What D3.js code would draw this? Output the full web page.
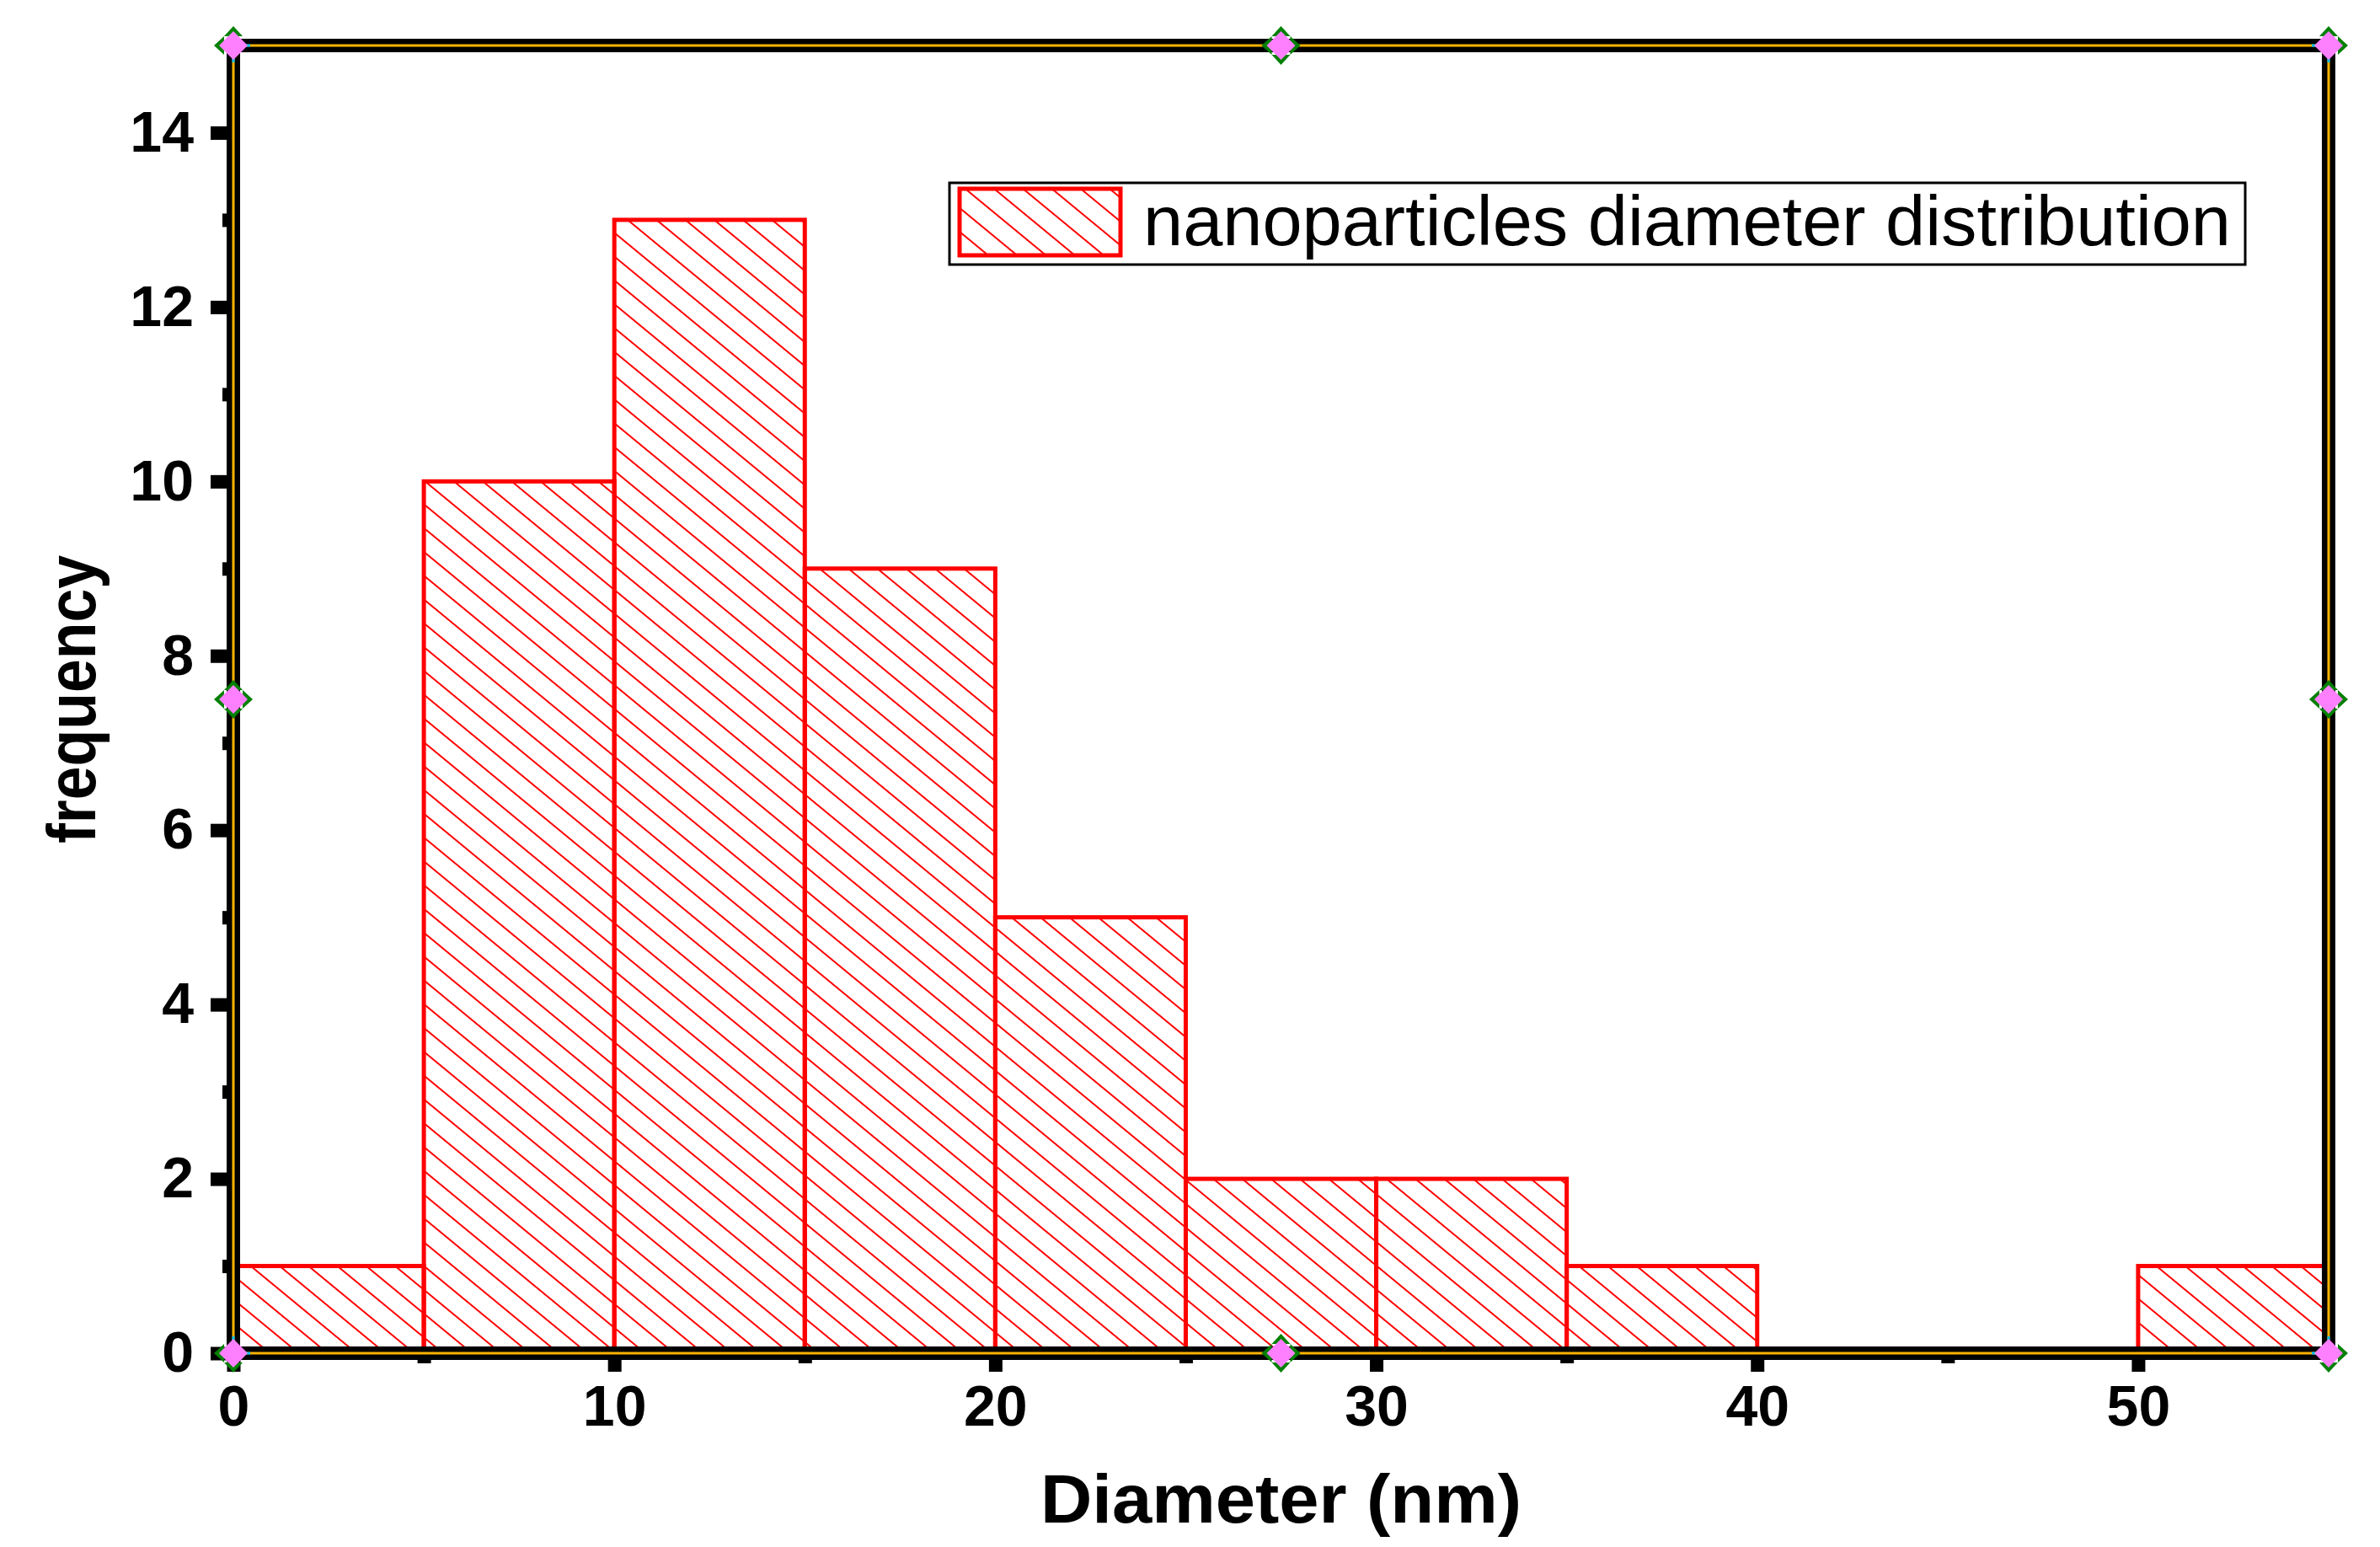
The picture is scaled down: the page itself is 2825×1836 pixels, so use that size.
<!DOCTYPE html>
<html>
<head>
<meta charset="utf-8">
<script src="https://cdn.jsdelivr.net/npm/d3@7"></script>
<style>
  html, body { margin: 0; padding: 0; background: #fff; }
  svg { display: block; }
</style>
</head>
<body>
<svg id="chart" width="2825" height="1836"></svg>
<script>
// ---- data ----
const binStarts = [0, 5, 10, 15, 20, 25, 30, 35, 40, 45, 50];
const binWidth = 5;
const counts = [1, 10, 13, 9, 5, 2, 2, 1, 0, 0, 1];
const xMajorTicks = [0, 10, 20, 30, 40, 50];
const xMinorTicks = [5, 15, 25, 35, 45];
const yMajorTicks = [0, 2, 4, 6, 8, 10, 12, 14];
const yMinorTicks = [1, 3, 5, 7, 9, 11, 13];
const seriesName = "nanoparticles diameter distribution";
const xTitle = "Diameter (nm)";
const yTitle = "frequency";

// ---- layout ----
const L = 277, R = 2764, T = 54, B = 1606;
const svg = d3.select("#chart");
const x = d3.scaleLinear().domain([0, 55]).range([L, R]);
const y = d3.scaleLinear().domain([0, 15]).range([B, T]);
const FONT = "'Liberation Sans', Arial, Helvetica, sans-serif";

const defs = svg.append("defs");
const pat = defs.append("pattern")
  .attr("id", "hatch")
  .attr("patternUnits", "userSpaceOnUse")
  .attr("width", 40).attr("height", 21.8)
  .attr("patternTransform", "rotate(39.5)");
pat.append("line")
  .attr("x1", 0).attr("x2", 40).attr("y1", 10.9).attr("y2", 10.9)
  .attr("stroke", "#ff0000").attr("stroke-width", 2.2);

// ---- bars ----
const data = binStarts.map((s, i) => ({ s, e: s + binWidth, c: counts[i] }));
svg.append("g").selectAll("rect").data(data).join("rect")
  .attr("x", d => x(d.s))
  .attr("y", d => y(d.c))
  .attr("width", d => x(d.e) - x(d.s))
  .attr("height", d => y(0) - y(d.c))
  .attr("fill", "url(#hatch)")
  .attr("stroke", "#ff0000")
  .attr("stroke-width", 5);

// ---- axes ticks ----
function styleAxis(g) {
  g.select(".domain").remove();
  g.selectAll(".tick line").attr("stroke", "#000").attr("stroke-width", 16);
  g.selectAll(".tick text")
    .attr("fill", "#000")
    .style("font-family", FONT)
    .style("font-weight", "bold")
    .style("font-size", "68px");
}
svg.append("g").attr("transform", `translate(0,${B})`)
  .call(d3.axisBottom(x).tickValues(xMajorTicks).tickSize(22).tickPadding(16).tickFormat(d3.format("d")))
  .call(styleAxis);
svg.append("g").attr("transform", `translate(0,${B})`)
  .call(d3.axisBottom(x).tickValues(xMinorTicks).tickSize(12).tickFormat(""))
  .call(styleAxis);
svg.append("g").attr("transform", `translate(${L},0)`)
  .call(d3.axisLeft(y).tickValues(yMajorTicks).tickSize(27).tickPadding(20).tickFormat(d3.format("d")))
  .call(styleAxis);
svg.append("g").attr("transform", `translate(${L},0)`)
  .call(d3.axisLeft(y).tickValues(yMinorTicks).tickSize(13).tickFormat(""))
  .call(styleAxis);

// ---- frame ----
svg.append("rect")
  .attr("x", L).attr("y", T).attr("width", R - L).attr("height", B - T)
  .attr("fill", "none").attr("stroke", "#000").attr("stroke-width", 16);
svg.append("rect")
  .attr("x", L).attr("y", T).attr("width", R - L).attr("height", B - T)
  .attr("fill", "none").attr("stroke", "#ffb400").attr("stroke-width", 3);

// cyan corner marks
const cyan = "#00c0ff";
const cm = 20;
const corners = [
  [L, T, 1, 1], [R, T, -1, 1], [L, B, 1, -1], [R, B, -1, -1]
];
corners.forEach(([cx, cy, sx, sy]) => {
  svg.append("path")
    .attr("d", `M${cx + sx * cm},${cy} L${cx},${cy} L${cx},${cy + sy * cm}`)
    .attr("fill", "none").attr("stroke", cyan).attr("stroke-width", 3);
});

// selection handles
const handles = [
  { p: [L, T], dirs: [[0, -1], [-1, 0]] },
  { p: [R, T], dirs: [[0, -1], [1, 0]] },
  { p: [L, B], dirs: [[0, 1], [-1, 0]] },
  { p: [R, B], dirs: [[0, 1], [1, 0]] },
  { p: [(L + R) / 2, T], dirs: [[0, -1], [0, 1], [-1, 0], [1, 0]] },
  { p: [(L + R) / 2, B], dirs: [[0, -1], [0, 1], [-1, 0], [1, 0]] },
  { p: [L, (T + B) / 2], dirs: [[0, -1], [0, 1], [-1, 0], [1, 0]] },
  { p: [R, (T + B) / 2], dirs: [[0, -1], [0, 1], [-1, 0], [1, 0]] }
];
handles.forEach(h => {
  const [hx, hy] = h.p;
  h.dirs.forEach(([dx, dy]) => {
    const tipX = hx + dx * 23, tipY = hy + dy * 23;
    const bx = hx + dx * 11, by = hy + dy * 11;
    const px = -dy * 11, py = dx * 11;
    svg.append("path")
      .attr("d", `M${tipX},${tipY} L${bx + px},${by + py} L${bx - px},${by - py} Z`)
      .attr("fill", "#008000");
  });
  const s = 17;
  svg.append("path")
    .attr("d", `M${hx},${hy - s} L${hx + s},${hy} L${hx},${hy + s} L${hx - s},${hy} Z`)
    .attr("fill", "#ff80ff");
});

// ---- legend ----
const lg = svg.append("g");
lg.append("rect")
  .attr("x", 1127).attr("y", 217).attr("width", 1538).attr("height", 97)
  .attr("fill", "#fff").attr("stroke", "#000").attr("stroke-width", 3);
lg.append("rect")
  .attr("x", 1139).attr("y", 224).attr("width", 191).attr("height", 79)
  .attr("fill", "url(#hatch)").attr("stroke", "#ff0000").attr("stroke-width", 5);
lg.append("text")
  .attr("x", 1357).attr("y", 291)
  .attr("textLength", 1291).attr("lengthAdjust", "spacingAndGlyphs")
  .style("font-family", FONT).style("font-size", "84px")
  .attr("fill", "#000")
  .text(seriesName);

// ---- titles ----
svg.append("text")
  .attr("x", (L + R) / 2).attr("y", 1807)
  .attr("text-anchor", "middle")
  .attr("textLength", 571).attr("lengthAdjust", "spacingAndGlyphs")
  .style("font-family", FONT).style("font-weight", "bold").style("font-size", "82px")
  .attr("fill", "#000")
  .text(xTitle);
svg.append("text")
  .attr("transform", `translate(113,${(T + B) / 2}) rotate(-90)`)
  .attr("text-anchor", "middle")
  .attr("textLength", 342).attr("lengthAdjust", "spacingAndGlyphs")
  .style("font-family", FONT).style("font-weight", "bold").style("font-size", "82px")
  .attr("fill", "#000")
  .text(yTitle);
</script>
</body>
</html>
